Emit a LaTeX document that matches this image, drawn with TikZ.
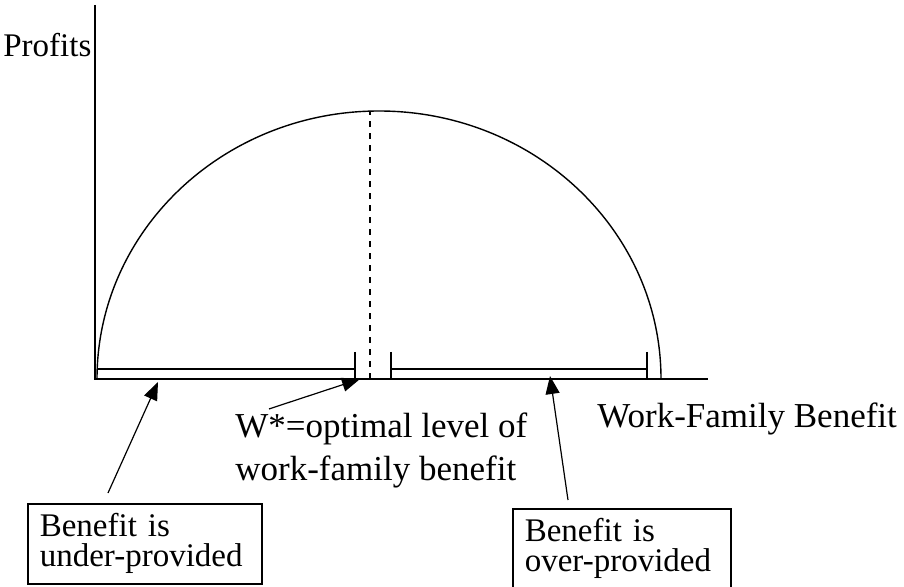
\documentclass[tikz,border=0pt]{standalone}
\usepackage{fontspec}
\setmainfont{Liberation Serif}
\usetikzlibrary{arrows.meta}
\begin{document}
\begin{tikzpicture}[x=0.5pt, y=-0.5pt,
    lbl/.style = {inner sep=0pt, anchor=base west, align=left, font=\fontsize{17.5}{21}\selectfont},
    note/.style = {draw, line width=0.8pt, anchor=north west, align=left, inner xsep=6pt, minimum height=40pt, font=\fontsize{16.5}{15}\selectfont},
    ptr/.style = {-{Triangle[length=9pt, width=7pt]}, line width=0.6pt},
    axis/.style = {line width=0.9pt},
    brk/.style = {line width=0.8pt}]
    \useasboundingbox (0,0) rectangle (904,587);

    \coordinate (o) at (95,379);
    \coordinate (ytop) at (95,5);
    \coordinate (xend) at (708,379);
    \coordinate (peak) at (370,111);
    \coordinate (peakfoot) at (370,379);
    \coordinate (lowtip) at (158,382);
    \coordinate (wtip) at (360,379);
    \coordinate (hightip) at (550,376);

    \draw[axis] (ytop) -- (o) -- (xend);
    \draw[line width=0.7pt] (97,379) arc[start angle=180, end angle=360, x radius=282, y radius=268];
    \draw[dashed, line width=0.6pt] (peakfoot) -- (peak);

    \draw[brk] (98,369) -- (355,369);
    \draw[brk] (355,352) -- (355,379);
    \draw[brk] (391,352) -- (391,379);
    \draw[brk] (391,369) -- (647,369);
    \draw[brk] (647,352) -- (647,379);

    \node[lbl, font=\fontsize{16.5}{18}\selectfont] (profits) at (3,57) {Profits};
    \node[lbl] (wfb) at (597,427) {Work-Family Benefit};
    \node[lbl] (wstar) at (235,480) {W*=optimal level of\\work-family benefit};
    \node[note, text width=105pt] (under) at (27,503) {Benefit is\\under-provided};
    \node[note, text width=97pt] (over) at (512,508) {Benefit is\\over-provided};

    \draw[ptr] ([xshift=40.5pt, yshift=5pt]under.north west) -- (lowtip);
    \draw[ptr] ([xshift=17pt, yshift=2pt]wstar.north west) -- (wtip);
    \draw[ptr] ([xshift=28pt, yshift=4pt]over.north west) -- (hightip);

\end{tikzpicture}
\end{document}
